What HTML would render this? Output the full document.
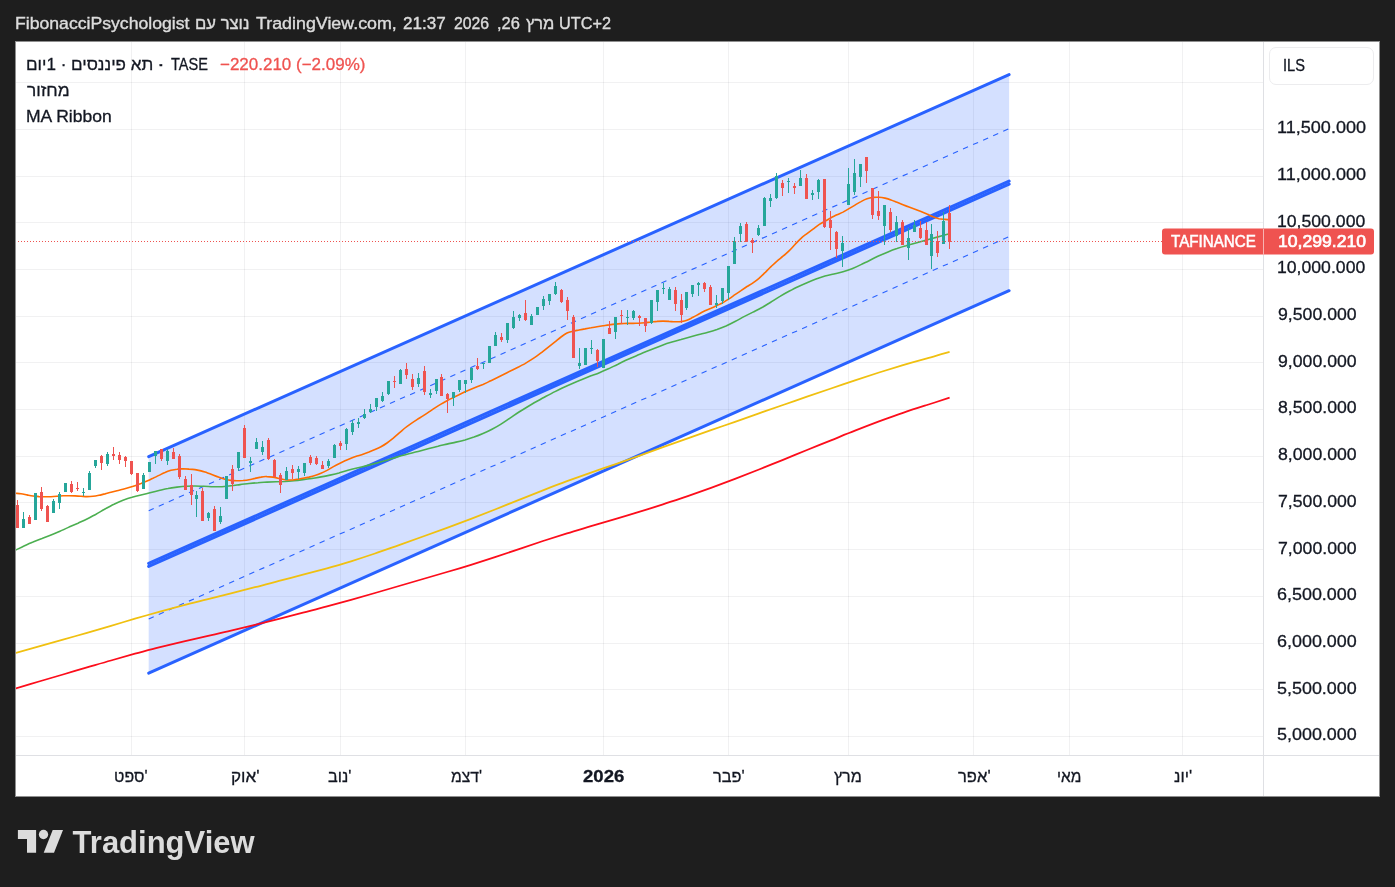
<!DOCTYPE html>
<html lang="he" dir="ltr">
<head>
<meta charset="utf-8">
<title>TAFINANCE chart</title>
<style>
html,body{margin:0;padding:0;}
body{width:1395px;height:887px;background:#1e1e1e;overflow:hidden;position:relative;font-family:"Liberation Sans","DejaVu Sans",sans-serif;color:#131722;}
#wrap{position:absolute;left:15px;top:41px;width:1365px;height:756px;}
#chart{position:absolute;left:0;top:0;width:1365px;height:756px;background:#fff;overflow:hidden;}
#chart svg{position:absolute;left:-15px;top:-41px;}
.t{position:absolute;white-space:pre;font-size:16.8px;line-height:20px;height:20px;transform-origin:0 50%;-webkit-text-stroke:0.3px currentColor;}
.sepv{position:absolute;left:1248px;top:0;width:1px;height:756px;background:#dfe0e4;}
.seph{position:absolute;left:0;top:714px;width:1365px;height:1px;background:#dfe0e4;}
.bl{position:absolute;left:0;top:0;width:1px;height:756px;background:#8f8f8f;}
.bt{position:absolute;left:0;top:0;width:1365px;height:1px;background:#8f8f8f;}
.br{position:absolute;left:1364px;top:0;width:1px;height:756px;background:#8f8f8f;}
.bb{position:absolute;left:0;top:755px;width:1365px;height:1px;background:#8f8f8f;}
#ils{position:absolute;left:1254px;top:6px;width:105px;height:38px;border:1px solid #ececee;border-radius:7px;box-sizing:border-box;}
#tag{position:absolute;left:1147px;top:187px;width:212px;height:26px;background:#ef5350;border-radius:3px;transform:translateY(0.5px);}
#tagsep{position:absolute;left:1248px;top:188px;width:1px;height:26px;background:#f7b4b2;}
#logo{position:absolute;left:0;top:797px;}
</style>
</head>
<body>
<div id="wrap">
<div id="chart">
<svg width="1395" height="887" viewBox="0 0 1395 887">
<g shape-rendering="crispEdges">
<line x1="16" x2="1263" y1="82.5" y2="82.5" stroke="rgba(42,46,57,0.065)"/>
<line x1="16" x2="1263" y1="129.5" y2="129.5" stroke="rgba(42,46,57,0.065)"/>
<line x1="16" x2="1263" y1="176.5" y2="176.5" stroke="rgba(42,46,57,0.065)"/>
<line x1="16" x2="1263" y1="222.5" y2="222.5" stroke="rgba(42,46,57,0.065)"/>
<line x1="16" x2="1263" y1="269.5" y2="269.5" stroke="rgba(42,46,57,0.065)"/>
<line x1="16" x2="1263" y1="316.5" y2="316.5" stroke="rgba(42,46,57,0.065)"/>
<line x1="16" x2="1263" y1="362.5" y2="362.5" stroke="rgba(42,46,57,0.065)"/>
<line x1="16" x2="1263" y1="409.5" y2="409.5" stroke="rgba(42,46,57,0.065)"/>
<line x1="16" x2="1263" y1="456.5" y2="456.5" stroke="rgba(42,46,57,0.065)"/>
<line x1="16" x2="1263" y1="502.5" y2="502.5" stroke="rgba(42,46,57,0.065)"/>
<line x1="16" x2="1263" y1="549.5" y2="549.5" stroke="rgba(42,46,57,0.065)"/>
<line x1="16" x2="1263" y1="596.5" y2="596.5" stroke="rgba(42,46,57,0.065)"/>
<line x1="16" x2="1263" y1="643.5" y2="643.5" stroke="rgba(42,46,57,0.065)"/>
<line x1="16" x2="1263" y1="689.5" y2="689.5" stroke="rgba(42,46,57,0.065)"/>
<line x1="16" x2="1263" y1="736.5" y2="736.5" stroke="rgba(42,46,57,0.065)"/>
<line x1="131.5" x2="131.5" y1="42" y2="755" stroke="rgba(42,46,57,0.065)"/>
<line x1="244.5" x2="244.5" y1="42" y2="755" stroke="rgba(42,46,57,0.065)"/>
<line x1="340.5" x2="340.5" y1="42" y2="755" stroke="rgba(42,46,57,0.065)"/>
<line x1="465.5" x2="465.5" y1="42" y2="755" stroke="rgba(42,46,57,0.065)"/>
<line x1="603.5" x2="603.5" y1="42" y2="755" stroke="rgba(42,46,57,0.065)"/>
<line x1="728.5" x2="728.5" y1="42" y2="755" stroke="rgba(42,46,57,0.065)"/>
<line x1="848.5" x2="848.5" y1="42" y2="755" stroke="rgba(42,46,57,0.065)"/>
<line x1="973.5" x2="973.5" y1="42" y2="755" stroke="rgba(42,46,57,0.065)"/>
<line x1="1069.5" x2="1069.5" y1="42" y2="755" stroke="rgba(42,46,57,0.065)"/>
<line x1="1182.5" x2="1182.5" y1="42" y2="755" stroke="rgba(42,46,57,0.065)"/>
</g>
<polygon points="148.7,456.57 1009.1,74.6 1009.1,290.7 148.7,673.13" fill="#2962ff" fill-opacity="0.2"/>
<line x1="148.7" y1="456.57" x2="1009.1" y2="74.60" stroke="#2962ff" stroke-width="3" stroke-linecap="round"/>
<line x1="148.7" y1="673.13" x2="1009.1" y2="290.70" stroke="#2962ff" stroke-width="3" stroke-linecap="round"/>
<line x1="148.7" y1="510.71" x2="1009.1" y2="128.62" stroke="#2962ff" stroke-width="1.1" stroke-linecap="butt" stroke-dasharray="5.5 5.5"/>
<line x1="148.7" y1="618.99" x2="1009.1" y2="236.67" stroke="#2962ff" stroke-width="1.1" stroke-linecap="butt" stroke-dasharray="5.5 5.5"/>
<line x1="148.7" y1="563.35" x2="1009.1" y2="181.15" stroke="#2962ff" stroke-width="3.1" stroke-linecap="round"/>
<line x1="148.7" y1="566.35" x2="1009.1" y2="184.15" stroke="#2962ff" stroke-width="3.1" stroke-linecap="round"/>
<path d="M15.0,688.7C19.0,687.5 31.0,683.9 39.0,681.5C47.0,679.2 55.0,676.8 63.0,674.5C71.0,672.1 79.0,669.8 87.0,667.4C95.0,665.1 103.0,662.7 111.0,660.5C119.0,658.2 127.0,655.9 135.0,653.7C143.0,651.6 151.0,649.4 159.0,647.4C167.0,645.4 175.0,643.5 183.0,641.6C191.0,639.7 199.0,638.0 207.0,636.1C215.0,634.3 223.0,632.6 231.0,630.7C239.0,628.8 247.0,626.9 255.0,624.9C263.0,622.9 271.0,620.9 279.0,618.8C287.0,616.8 295.0,614.7 303.0,612.6C311.0,610.5 319.0,608.5 327.0,606.3C335.0,604.2 343.0,602.0 351.0,599.8C359.0,597.5 367.0,595.2 375.0,593.0C383.0,590.7 391.0,588.3 399.0,586.0C407.0,583.7 415.0,581.4 423.0,579.0C431.0,576.7 439.0,574.4 447.0,572.0C455.0,569.7 463.0,567.3 471.0,564.8C479.0,562.3 487.0,559.7 495.0,557.1C503.0,554.5 511.0,551.8 519.0,549.1C527.0,546.4 535.0,543.7 543.0,541.0C551.0,538.4 559.0,535.9 567.0,533.4C575.0,530.9 583.0,528.6 591.0,526.2C599.0,523.8 607.0,521.5 615.0,519.1C623.0,516.8 631.0,514.4 639.0,511.9C647.0,509.5 655.0,507.0 663.0,504.4C671.0,501.7 679.0,499.1 687.0,496.3C695.0,493.5 703.0,490.7 711.0,487.8C719.0,484.9 727.0,481.9 735.0,478.9C743.0,475.8 751.0,472.7 759.0,469.5C767.0,466.3 775.0,463.0 783.0,459.8C791.0,456.5 799.0,453.3 807.0,450.0C815.0,446.8 823.0,443.5 831.0,440.3C839.0,437.1 847.0,433.8 855.0,430.7C863.0,427.5 871.0,424.4 879.0,421.4C887.0,418.5 895.0,415.6 903.0,412.9C911.0,410.1 919.2,407.5 927.0,405.0C934.8,402.5 945.8,399.0 949.6,397.7" fill="none" stroke="#fc0d1b" stroke-width="1.8" stroke-linejoin="round"/>
<path d="M15.0,653.1C19.0,652.0 31.0,648.7 39.0,646.4C47.0,644.2 55.0,642.0 63.0,639.7C71.0,637.4 79.0,635.1 87.0,632.8C95.0,630.5 103.0,628.1 111.0,625.8C119.0,623.4 127.0,621.1 135.0,618.7C143.0,616.4 151.0,614.1 159.0,611.8C167.0,609.6 175.0,607.4 183.0,605.3C191.0,603.2 199.0,601.3 207.0,599.3C215.0,597.3 223.0,595.4 231.0,593.4C239.0,591.4 247.0,589.3 255.0,587.2C263.0,585.2 271.0,583.0 279.0,580.9C287.0,578.8 295.0,576.8 303.0,574.7C311.0,572.6 319.0,570.5 327.0,568.3C335.0,566.0 343.0,563.8 351.0,561.3C359.0,558.8 367.0,556.2 375.0,553.5C383.0,550.8 391.0,547.9 399.0,545.1C407.0,542.3 415.0,539.4 423.0,536.5C431.0,533.7 439.0,530.8 447.0,527.9C455.0,524.9 463.0,521.9 471.0,518.9C479.0,515.8 487.0,512.7 495.0,509.5C503.0,506.3 511.0,503.0 519.0,499.8C527.0,496.6 535.0,493.4 543.0,490.3C551.0,487.2 559.0,484.1 567.0,481.2C575.0,478.3 583.0,475.5 591.0,472.6C599.0,469.8 607.0,467.1 615.0,464.3C623.0,461.5 631.0,458.7 639.0,455.9C647.0,453.0 655.0,450.1 663.0,447.2C671.0,444.4 679.0,441.5 687.0,438.6C695.0,435.8 703.0,433.0 711.0,430.2C719.0,427.4 727.0,424.6 735.0,421.8C743.0,418.9 751.0,416.1 759.0,413.3C767.0,410.5 775.0,407.7 783.0,405.0C791.0,402.2 799.0,399.5 807.0,396.7C815.0,394.0 823.0,391.3 831.0,388.5C839.0,385.8 847.0,383.1 855.0,380.4C863.0,377.7 871.0,375.1 879.0,372.5C887.0,370.0 895.0,367.5 903.0,365.1C911.0,362.8 919.2,360.5 927.0,358.3C934.8,356.1 945.8,352.9 949.6,351.9" fill="none" stroke="#f0c010" stroke-width="1.8" stroke-linejoin="round"/>
<path d="M15.0,550.4C16.5,549.7 21.0,547.4 24.0,546.0C27.0,544.6 30.0,543.2 33.0,542.0C36.0,540.7 39.0,539.6 42.0,538.5C45.0,537.3 48.0,536.3 51.0,535.1C54.0,533.9 57.0,532.5 60.0,531.2C63.0,529.9 66.0,528.5 69.0,527.1C72.0,525.8 75.0,524.5 78.0,523.2C81.0,521.8 84.0,520.5 87.0,519.0C90.0,517.5 93.0,515.8 96.0,514.2C99.0,512.5 102.0,510.7 105.0,509.0C108.0,507.3 111.0,505.6 114.0,504.2C117.0,502.7 120.0,501.3 123.0,500.2C126.0,499.1 129.0,498.1 132.0,497.3C135.0,496.4 138.0,495.7 141.0,495.0C144.0,494.3 147.0,493.6 150.0,492.8C153.0,492.0 156.0,491.2 159.0,490.5C162.0,489.8 165.0,489.0 168.0,488.5C171.0,487.9 174.0,487.5 177.0,487.1C180.0,486.8 183.0,486.5 186.0,486.3C189.0,486.1 192.0,486.0 195.0,486.0C198.0,486.0 201.0,486.2 204.0,486.3C207.0,486.4 210.0,486.7 213.0,486.8C216.0,486.8 219.0,486.8 222.0,486.7C225.0,486.5 228.0,486.2 231.0,485.8C234.0,485.5 237.0,485.0 240.0,484.6C243.0,484.2 246.0,483.9 249.0,483.5C252.0,483.2 255.0,482.9 258.0,482.7C261.0,482.4 264.0,482.3 267.0,482.1C270.0,482.0 273.0,481.9 276.0,481.8C279.0,481.7 282.0,481.6 285.0,481.5C288.0,481.3 291.0,481.0 294.0,480.7C297.0,480.4 300.0,480.0 303.0,479.6C306.0,479.2 309.0,478.8 312.0,478.4C315.0,477.9 318.0,477.5 321.0,476.9C324.0,476.4 327.0,475.8 330.0,475.1C333.0,474.4 336.0,473.7 339.0,472.9C342.0,472.0 345.0,471.0 348.0,470.2C351.0,469.4 354.0,468.7 357.0,468.0C360.0,467.3 363.0,466.6 366.0,465.9C369.0,465.2 372.0,464.4 375.0,463.6C378.0,462.8 381.0,461.9 384.0,461.1C387.0,460.2 390.0,459.2 393.0,458.3C396.0,457.4 399.0,456.4 402.0,455.6C405.0,454.7 408.0,454.0 411.0,453.2C414.0,452.4 417.0,451.7 420.0,450.9C423.0,450.1 426.0,449.3 429.0,448.5C432.0,447.7 435.0,446.9 438.0,446.2C441.0,445.4 444.0,444.8 447.0,444.1C450.0,443.4 453.0,442.8 456.0,442.1C459.0,441.4 462.0,440.7 465.0,439.9C468.0,439.0 471.0,438.1 474.0,437.1C477.0,436.0 480.0,434.8 483.0,433.5C486.0,432.2 489.0,430.8 492.0,429.2C495.0,427.7 498.0,426.0 501.0,424.1C504.0,422.3 507.0,420.1 510.0,418.1C513.0,416.1 516.0,413.9 519.0,412.0C522.0,410.1 525.0,408.3 528.0,406.5C531.0,404.7 534.0,403.0 537.0,401.3C540.0,399.6 543.0,397.9 546.0,396.3C549.0,394.7 552.0,393.1 555.0,391.6C558.0,390.1 561.0,388.6 564.0,387.2C567.0,385.8 570.0,384.5 573.0,383.2C576.0,381.9 579.0,380.6 582.0,379.4C585.0,378.2 588.0,377.0 591.0,375.8C594.0,374.7 597.0,373.7 600.0,372.4C603.0,371.2 606.0,369.9 609.0,368.6C612.0,367.2 615.0,365.6 618.0,364.2C621.0,362.7 624.0,361.2 627.0,359.8C630.0,358.5 633.0,357.2 636.0,355.9C639.0,354.6 642.0,353.4 645.0,352.1C648.0,350.9 651.0,349.6 654.0,348.4C657.0,347.2 660.0,346.0 663.0,344.9C666.0,343.9 669.0,343.0 672.0,342.1C675.0,341.2 678.0,340.4 681.0,339.6C684.0,338.7 687.0,337.9 690.0,337.1C693.0,336.3 696.0,335.5 699.0,334.6C702.0,333.8 705.0,333.1 708.0,332.2C711.0,331.4 714.0,330.5 717.0,329.5C720.0,328.4 723.0,327.3 726.0,326.0C729.0,324.6 732.0,323.1 735.0,321.5C738.0,320.0 741.0,318.2 744.0,316.6C747.0,315.1 750.0,313.6 753.0,312.1C756.0,310.6 759.0,309.2 762.0,307.5C765.0,305.8 768.0,303.8 771.0,302.0C774.0,300.1 777.0,298.1 780.0,296.4C783.0,294.6 786.0,292.9 789.0,291.3C792.0,289.7 795.0,288.1 798.0,286.7C801.0,285.3 804.0,284.0 807.0,282.7C810.0,281.4 813.0,280.1 816.0,279.0C819.0,277.9 822.0,276.9 825.0,276.0C828.0,275.2 831.0,274.7 834.0,274.0C837.0,273.3 840.0,272.7 843.0,271.8C846.0,270.9 849.0,269.9 852.0,268.7C855.0,267.5 858.0,266.1 861.0,264.6C864.0,263.2 867.0,261.7 870.0,260.2C873.0,258.7 876.0,257.2 879.0,255.8C882.0,254.5 885.0,253.2 888.0,251.9C891.0,250.7 894.0,249.6 897.0,248.6C900.0,247.5 903.0,246.6 906.0,245.8C909.0,244.9 912.0,244.0 915.0,243.2C918.0,242.4 921.0,241.6 924.0,240.8C927.0,240.0 930.0,239.2 933.0,238.3C936.0,237.5 939.2,236.6 942.0,235.8C944.8,235.1 948.2,234.2 949.5,233.8" fill="none" stroke="#4caf50" stroke-width="1.6" stroke-linejoin="round"/>
<path d="M15.0,493.2C16.0,493.3 19.0,493.5 21.0,493.7C23.0,494.0 25.0,494.5 27.0,494.9C29.0,495.3 31.0,495.8 33.0,496.0C35.0,496.3 37.0,496.4 39.0,496.6C41.0,496.7 43.0,496.8 45.0,496.8C47.0,496.8 49.0,496.8 51.0,496.7C53.0,496.6 55.0,496.4 57.0,496.2C59.0,496.0 61.0,495.8 63.0,495.7C65.0,495.7 67.0,495.7 69.0,495.7C71.0,495.7 73.0,495.8 75.0,495.9C77.0,496.0 79.0,496.2 81.0,496.3C83.0,496.4 85.0,496.6 87.0,496.6C89.0,496.6 91.0,496.5 93.0,496.3C95.0,496.1 97.0,495.7 99.0,495.3C101.0,494.9 103.0,494.3 105.0,493.9C107.0,493.4 109.0,492.8 111.0,492.3C113.0,491.8 115.0,491.3 117.0,490.8C119.0,490.3 121.0,489.7 123.0,489.2C125.0,488.7 127.0,488.2 129.0,487.6C131.0,487.0 133.0,486.4 135.0,485.7C137.0,485.0 139.0,484.3 141.0,483.6C143.0,482.8 145.0,482.0 147.0,481.1C149.0,480.2 151.0,479.2 153.0,478.3C155.0,477.3 157.0,476.4 159.0,475.4C161.0,474.4 163.0,473.3 165.0,472.5C167.0,471.6 169.0,470.9 171.0,470.3C173.0,469.8 175.0,469.4 177.0,469.2C179.0,468.9 181.0,468.9 183.0,468.8C185.0,468.8 187.0,468.9 189.0,469.1C191.0,469.2 193.0,469.3 195.0,469.6C197.0,469.9 199.0,470.4 201.0,470.9C203.0,471.4 205.0,472.1 207.0,472.7C209.0,473.4 211.0,474.3 213.0,475.0C215.0,475.8 217.0,476.6 219.0,477.3C221.0,478.0 223.0,478.7 225.0,479.3C227.0,479.8 229.0,480.2 231.0,480.4C233.0,480.7 235.0,480.7 237.0,480.7C239.0,480.7 241.0,480.6 243.0,480.5C245.0,480.3 247.0,480.1 249.0,479.7C251.0,479.4 253.0,478.8 255.0,478.4C257.0,477.9 259.0,477.4 261.0,477.1C263.0,476.7 265.0,476.5 267.0,476.6C269.0,476.6 271.0,476.8 273.0,477.1C275.0,477.5 277.0,478.0 279.0,478.5C281.0,478.9 283.0,479.5 285.0,479.8C287.0,480.1 289.0,480.1 291.0,480.0C293.0,479.9 295.0,479.5 297.0,479.2C299.0,478.9 301.0,478.7 303.0,478.3C305.0,477.9 307.0,477.5 309.0,477.1C311.0,476.6 313.0,476.1 315.0,475.5C317.0,474.9 319.0,474.1 321.0,473.2C323.0,472.4 325.0,471.4 327.0,470.4C329.0,469.3 331.0,468.1 333.0,466.9C335.0,465.8 337.0,464.7 339.0,463.7C341.0,462.7 343.0,461.7 345.0,460.8C347.0,459.9 349.0,459.1 351.0,458.3C353.0,457.5 355.0,456.8 357.0,456.1C359.0,455.4 361.0,454.9 363.0,454.2C365.0,453.5 367.0,452.8 369.0,452.1C371.0,451.3 373.0,450.5 375.0,449.6C377.0,448.7 379.0,447.8 381.0,446.7C383.0,445.6 385.0,444.4 387.0,443.0C389.0,441.6 391.0,440.0 393.0,438.4C395.0,436.7 397.0,435.0 399.0,433.2C401.0,431.5 403.0,429.7 405.0,428.0C407.0,426.4 409.0,425.0 411.0,423.6C413.0,422.2 415.0,420.9 417.0,419.6C419.0,418.3 421.0,417.2 423.0,415.9C425.0,414.6 427.0,413.3 429.0,411.9C431.0,410.6 433.0,409.2 435.0,407.9C437.0,406.6 439.0,405.3 441.0,404.1C443.0,402.9 445.0,401.8 447.0,400.7C449.0,399.6 451.0,398.7 453.0,397.6C455.0,396.6 457.0,395.6 459.0,394.7C461.0,393.7 463.0,392.7 465.0,391.7C467.0,390.8 469.0,390.0 471.0,389.2C473.0,388.4 475.0,387.6 477.0,386.8C479.0,386.0 481.0,385.2 483.0,384.4C485.0,383.5 487.0,382.6 489.0,381.6C491.0,380.7 493.0,379.7 495.0,378.7C497.0,377.7 499.0,376.7 501.0,375.7C503.0,374.7 505.0,373.7 507.0,372.7C509.0,371.7 511.0,370.7 513.0,369.7C515.0,368.7 517.0,367.7 519.0,366.7C521.0,365.6 523.0,364.7 525.0,363.6C527.0,362.4 529.0,361.2 531.0,359.9C533.0,358.6 535.0,357.3 537.0,355.9C539.0,354.5 541.0,352.9 543.0,351.4C545.0,349.9 547.0,348.3 549.0,346.7C551.0,345.1 553.0,343.5 555.0,341.9C557.0,340.3 559.0,338.5 561.0,337.0C563.0,335.5 565.0,334.0 567.0,333.0C569.0,332.1 571.0,331.7 573.0,331.2C575.0,330.7 577.0,330.4 579.0,330.0C581.0,329.6 583.0,329.2 585.0,328.9C587.0,328.5 589.0,328.1 591.0,327.8C593.0,327.4 595.0,327.0 597.0,326.7C599.0,326.4 601.0,326.1 603.0,325.8C605.0,325.5 607.0,325.1 609.0,324.9C611.0,324.6 613.0,324.3 615.0,324.1C617.0,323.9 619.0,323.8 621.0,323.6C623.0,323.5 625.0,323.5 627.0,323.4C629.0,323.4 631.0,323.4 633.0,323.4C635.0,323.3 637.0,323.3 639.0,323.2C641.0,323.1 643.0,322.9 645.0,322.7C647.0,322.5 649.0,322.2 651.0,322.0C653.0,321.8 655.0,321.5 657.0,321.4C659.0,321.2 661.0,321.1 663.0,321.1C665.0,321.1 667.0,321.2 669.0,321.4C671.0,321.5 673.0,321.8 675.0,321.8C677.0,321.8 679.0,321.9 681.0,321.6C683.0,321.3 685.0,321.0 687.0,320.2C689.0,319.5 691.0,318.3 693.0,317.3C695.0,316.3 697.0,315.1 699.0,314.0C701.0,312.9 703.0,311.8 705.0,310.8C707.0,309.8 709.0,309.0 711.0,308.2C713.0,307.3 715.0,306.5 717.0,305.6C719.0,304.6 721.0,303.7 723.0,302.6C725.0,301.4 727.0,300.2 729.0,298.9C731.0,297.6 733.0,296.1 735.0,294.7C737.0,293.3 739.0,291.9 741.0,290.6C743.0,289.2 745.0,287.8 747.0,286.5C749.0,285.2 751.0,284.2 753.0,282.8C755.0,281.4 757.0,280.0 759.0,278.3C761.0,276.6 763.0,274.6 765.0,272.7C767.0,270.7 769.0,268.6 771.0,266.7C773.0,264.8 775.0,262.8 777.0,261.1C779.0,259.3 781.0,257.9 783.0,256.2C785.0,254.6 787.0,252.9 789.0,250.9C791.0,249.0 793.0,246.6 795.0,244.5C797.0,242.4 799.0,240.1 801.0,238.3C803.0,236.4 805.0,235.1 807.0,233.6C809.0,232.1 811.0,230.6 813.0,229.1C815.0,227.6 817.0,225.9 819.0,224.6C821.0,223.3 823.0,222.3 825.0,221.2C827.0,220.0 829.0,218.8 831.0,217.7C833.0,216.7 835.0,215.8 837.0,214.8C839.0,213.9 841.0,213.1 843.0,212.1C845.0,211.0 847.0,209.8 849.0,208.6C851.0,207.5 853.0,206.3 855.0,205.1C857.0,203.9 859.0,202.6 861.0,201.6C863.0,200.5 865.0,199.5 867.0,198.8C869.0,198.1 871.0,197.7 873.0,197.4C875.0,197.2 877.0,197.2 879.0,197.3C881.0,197.4 883.0,197.7 885.0,198.1C887.0,198.6 889.0,199.2 891.0,199.9C893.0,200.6 895.0,201.5 897.0,202.3C899.0,203.1 901.0,204.0 903.0,204.8C905.0,205.6 907.0,206.4 909.0,207.1C911.0,207.8 913.0,208.5 915.0,209.2C917.0,210.0 919.0,210.8 921.0,211.6C923.0,212.4 925.0,213.2 927.0,214.1C929.0,214.9 931.0,216.0 933.0,216.8C935.0,217.5 937.0,218.2 939.0,218.7C941.0,219.1 943.2,219.2 945.0,219.4C946.8,219.6 948.8,219.7 949.5,219.8" fill="none" stroke="#ff6d00" stroke-width="1.6" stroke-linejoin="round"/>
<g shape-rendering="crispEdges">
<rect x="17" y="500" width="1" height="28" fill="#ef5350"/>
<rect x="16" y="505" width="3" height="23" fill="#ef5350"/>
<rect x="23" y="512" width="1" height="16" fill="#26a69a"/>
<rect x="22" y="519" width="3" height="9" fill="#26a69a"/>
<rect x="29" y="515" width="1" height="9" fill="#ef5350"/>
<rect x="28" y="517" width="3" height="7" fill="#ef5350"/>
<rect x="35" y="493" width="1" height="27" fill="#26a69a"/>
<rect x="34" y="493" width="3" height="27" fill="#26a69a"/>
<rect x="41" y="487" width="1" height="24" fill="#ef5350"/>
<rect x="40" y="492" width="3" height="17" fill="#ef5350"/>
<rect x="47" y="505" width="1" height="17" fill="#ef5350"/>
<rect x="46" y="506" width="3" height="16" fill="#ef5350"/>
<rect x="53" y="499" width="1" height="14" fill="#26a69a"/>
<rect x="52" y="501" width="3" height="12" fill="#26a69a"/>
<rect x="59" y="492" width="1" height="17" fill="#26a69a"/>
<rect x="58" y="494" width="3" height="9" fill="#26a69a"/>
<rect x="65" y="483" width="1" height="9" fill="#26a69a"/>
<rect x="64" y="483" width="3" height="9" fill="#26a69a"/>
<rect x="71" y="481" width="1" height="12" fill="#ef5350"/>
<rect x="70" y="484" width="3" height="8" fill="#ef5350"/>
<rect x="77" y="482" width="1" height="9" fill="#ef5350"/>
<rect x="76" y="488" width="3" height="1" fill="#ef5350"/>
<rect x="83" y="488" width="1" height="8" fill="#26a69a"/>
<rect x="82" y="492" width="3" height="1" fill="#26a69a"/>
<rect x="89" y="471" width="1" height="19" fill="#26a69a"/>
<rect x="88" y="473" width="3" height="17" fill="#26a69a"/>
<rect x="95" y="460" width="1" height="8" fill="#26a69a"/>
<rect x="94" y="460" width="3" height="6" fill="#26a69a"/>
<rect x="101" y="455" width="1" height="15" fill="#ef5350"/>
<rect x="100" y="456" width="3" height="7" fill="#ef5350"/>
<rect x="107" y="452" width="1" height="14" fill="#26a69a"/>
<rect x="106" y="454" width="3" height="10" fill="#26a69a"/>
<rect x="113" y="447" width="1" height="13" fill="#ef5350"/>
<rect x="112" y="454" width="3" height="2" fill="#ef5350"/>
<rect x="119" y="452" width="1" height="12" fill="#ef5350"/>
<rect x="118" y="455" width="3" height="5" fill="#ef5350"/>
<rect x="125" y="456" width="1" height="11" fill="#ef5350"/>
<rect x="124" y="457" width="3" height="4" fill="#ef5350"/>
<rect x="131" y="461" width="1" height="14" fill="#ef5350"/>
<rect x="130" y="461" width="3" height="13" fill="#ef5350"/>
<rect x="137" y="473" width="1" height="19" fill="#ef5350"/>
<rect x="136" y="473" width="3" height="18" fill="#ef5350"/>
<rect x="143" y="473" width="1" height="16" fill="#26a69a"/>
<rect x="142" y="475" width="3" height="14" fill="#26a69a"/>
<rect x="149" y="462" width="1" height="10" fill="#26a69a"/>
<rect x="148" y="462" width="3" height="10" fill="#26a69a"/>
<rect x="155" y="451" width="1" height="13" fill="#26a69a"/>
<rect x="154" y="451" width="3" height="5" fill="#26a69a"/>
<rect x="161" y="449" width="1" height="12" fill="#ef5350"/>
<rect x="160" y="449" width="3" height="10" fill="#ef5350"/>
<rect x="167" y="449" width="1" height="16" fill="#26a69a"/>
<rect x="166" y="451" width="3" height="10" fill="#26a69a"/>
<rect x="173" y="448" width="1" height="11" fill="#ef5350"/>
<rect x="172" y="452" width="3" height="7" fill="#ef5350"/>
<rect x="179" y="454" width="1" height="25" fill="#ef5350"/>
<rect x="178" y="456" width="3" height="21" fill="#ef5350"/>
<rect x="185" y="476" width="1" height="14" fill="#ef5350"/>
<rect x="184" y="479" width="3" height="11" fill="#ef5350"/>
<rect x="191" y="474" width="1" height="31" fill="#ef5350"/>
<rect x="190" y="485" width="3" height="10" fill="#ef5350"/>
<rect x="196" y="491" width="1" height="26" fill="#26a69a"/>
<rect x="195" y="495" width="3" height="4" fill="#26a69a"/>
<rect x="202" y="488" width="1" height="33" fill="#ef5350"/>
<rect x="201" y="491" width="3" height="30" fill="#ef5350"/>
<rect x="208" y="512" width="1" height="9" fill="#26a69a"/>
<rect x="207" y="513" width="3" height="5" fill="#26a69a"/>
<rect x="214" y="506" width="1" height="25" fill="#ef5350"/>
<rect x="213" y="509" width="3" height="22" fill="#ef5350"/>
<rect x="220" y="507" width="1" height="17" fill="#26a69a"/>
<rect x="219" y="516" width="3" height="6" fill="#26a69a"/>
<rect x="226" y="476" width="1" height="23" fill="#26a69a"/>
<rect x="225" y="476" width="3" height="23" fill="#26a69a"/>
<rect x="232" y="465" width="1" height="26" fill="#ef5350"/>
<rect x="231" y="469" width="3" height="15" fill="#ef5350"/>
<rect x="238" y="452" width="1" height="19" fill="#26a69a"/>
<rect x="237" y="452" width="3" height="16" fill="#26a69a"/>
<rect x="244" y="425" width="1" height="33" fill="#ef5350"/>
<rect x="243" y="428" width="3" height="30" fill="#ef5350"/>
<rect x="250" y="457" width="1" height="15" fill="#26a69a"/>
<rect x="249" y="461" width="3" height="2" fill="#26a69a"/>
<rect x="256" y="438" width="1" height="11" fill="#26a69a"/>
<rect x="255" y="442" width="3" height="7" fill="#26a69a"/>
<rect x="262" y="441" width="1" height="14" fill="#26a69a"/>
<rect x="261" y="447" width="3" height="5" fill="#26a69a"/>
<rect x="268" y="438" width="1" height="22" fill="#ef5350"/>
<rect x="267" y="440" width="3" height="19" fill="#ef5350"/>
<rect x="274" y="459" width="1" height="18" fill="#ef5350"/>
<rect x="273" y="460" width="3" height="17" fill="#ef5350"/>
<rect x="280" y="473" width="1" height="20" fill="#ef5350"/>
<rect x="279" y="475" width="3" height="10" fill="#ef5350"/>
<rect x="286" y="467" width="1" height="13" fill="#26a69a"/>
<rect x="285" y="471" width="3" height="9" fill="#26a69a"/>
<rect x="292" y="465" width="1" height="14" fill="#ef5350"/>
<rect x="291" y="469" width="3" height="4" fill="#ef5350"/>
<rect x="298" y="466" width="1" height="13" fill="#26a69a"/>
<rect x="297" y="469" width="3" height="3" fill="#26a69a"/>
<rect x="304" y="463" width="1" height="13" fill="#26a69a"/>
<rect x="303" y="463" width="3" height="10" fill="#26a69a"/>
<rect x="310" y="455" width="1" height="10" fill="#ef5350"/>
<rect x="309" y="457" width="3" height="6" fill="#ef5350"/>
<rect x="316" y="456" width="1" height="9" fill="#ef5350"/>
<rect x="315" y="458" width="3" height="6" fill="#ef5350"/>
<rect x="322" y="461" width="1" height="8" fill="#ef5350"/>
<rect x="321" y="465" width="3" height="4" fill="#ef5350"/>
<rect x="328" y="459" width="1" height="9" fill="#26a69a"/>
<rect x="327" y="461" width="3" height="5" fill="#26a69a"/>
<rect x="334" y="444" width="1" height="14" fill="#26a69a"/>
<rect x="333" y="445" width="3" height="13" fill="#26a69a"/>
<rect x="340" y="441" width="1" height="9" fill="#ef5350"/>
<rect x="339" y="443" width="3" height="3" fill="#ef5350"/>
<rect x="346" y="428" width="1" height="22" fill="#26a69a"/>
<rect x="345" y="429" width="3" height="15" fill="#26a69a"/>
<rect x="352" y="420" width="1" height="15" fill="#26a69a"/>
<rect x="351" y="423" width="3" height="9" fill="#26a69a"/>
<rect x="358" y="418" width="1" height="10" fill="#26a69a"/>
<rect x="357" y="422" width="3" height="2" fill="#26a69a"/>
<rect x="364" y="409" width="1" height="10" fill="#26a69a"/>
<rect x="363" y="414" width="3" height="4" fill="#26a69a"/>
<rect x="370" y="404" width="1" height="9" fill="#26a69a"/>
<rect x="369" y="409" width="3" height="3" fill="#26a69a"/>
<rect x="376" y="398" width="1" height="13" fill="#26a69a"/>
<rect x="375" y="398" width="3" height="9" fill="#26a69a"/>
<rect x="382" y="392" width="1" height="10" fill="#26a69a"/>
<rect x="381" y="396" width="3" height="5" fill="#26a69a"/>
<rect x="388" y="381" width="1" height="14" fill="#26a69a"/>
<rect x="387" y="381" width="3" height="13" fill="#26a69a"/>
<rect x="394" y="376" width="1" height="12" fill="#ef5350"/>
<rect x="393" y="381" width="3" height="1" fill="#ef5350"/>
<rect x="400" y="369" width="1" height="15" fill="#26a69a"/>
<rect x="399" y="370" width="3" height="14" fill="#26a69a"/>
<rect x="406" y="363" width="1" height="16" fill="#ef5350"/>
<rect x="405" y="369" width="3" height="6" fill="#ef5350"/>
<rect x="412" y="374" width="1" height="16" fill="#ef5350"/>
<rect x="411" y="379" width="3" height="8" fill="#ef5350"/>
<rect x="418" y="373" width="1" height="14" fill="#26a69a"/>
<rect x="417" y="378" width="3" height="6" fill="#26a69a"/>
<rect x="424" y="366" width="1" height="29" fill="#ef5350"/>
<rect x="423" y="371" width="3" height="21" fill="#ef5350"/>
<rect x="430" y="389" width="1" height="9" fill="#26a69a"/>
<rect x="429" y="393" width="3" height="2" fill="#26a69a"/>
<rect x="436" y="379" width="1" height="15" fill="#26a69a"/>
<rect x="435" y="379" width="3" height="12" fill="#26a69a"/>
<rect x="441" y="374" width="1" height="22" fill="#ef5350"/>
<rect x="440" y="377" width="3" height="19" fill="#ef5350"/>
<rect x="447" y="393" width="1" height="20" fill="#ef5350"/>
<rect x="446" y="394" width="3" height="5" fill="#ef5350"/>
<rect x="453" y="392" width="1" height="14" fill="#26a69a"/>
<rect x="452" y="392" width="3" height="6" fill="#26a69a"/>
<rect x="459" y="380" width="1" height="12" fill="#26a69a"/>
<rect x="458" y="380" width="3" height="10" fill="#26a69a"/>
<rect x="465" y="380" width="1" height="13" fill="#26a69a"/>
<rect x="464" y="380" width="3" height="4" fill="#26a69a"/>
<rect x="471" y="368" width="1" height="15" fill="#26a69a"/>
<rect x="470" y="368" width="3" height="12" fill="#26a69a"/>
<rect x="477" y="358" width="1" height="12" fill="#ef5350"/>
<rect x="476" y="366" width="3" height="3" fill="#ef5350"/>
<rect x="483" y="363" width="1" height="6" fill="#26a69a"/>
<rect x="482" y="363" width="3" height="1" fill="#26a69a"/>
<rect x="489" y="346" width="1" height="17" fill="#26a69a"/>
<rect x="488" y="346" width="3" height="17" fill="#26a69a"/>
<rect x="495" y="332" width="1" height="14" fill="#26a69a"/>
<rect x="494" y="335" width="3" height="11" fill="#26a69a"/>
<rect x="501" y="333" width="1" height="9" fill="#ef5350"/>
<rect x="500" y="337" width="3" height="3" fill="#ef5350"/>
<rect x="507" y="323" width="1" height="20" fill="#26a69a"/>
<rect x="506" y="323" width="3" height="17" fill="#26a69a"/>
<rect x="513" y="311" width="1" height="18" fill="#26a69a"/>
<rect x="512" y="317" width="3" height="11" fill="#26a69a"/>
<rect x="519" y="314" width="1" height="7" fill="#26a69a"/>
<rect x="518" y="315" width="3" height="3" fill="#26a69a"/>
<rect x="525" y="300" width="1" height="21" fill="#ef5350"/>
<rect x="524" y="313" width="3" height="7" fill="#ef5350"/>
<rect x="531" y="314" width="1" height="11" fill="#26a69a"/>
<rect x="530" y="316" width="3" height="9" fill="#26a69a"/>
<rect x="537" y="307" width="1" height="8" fill="#26a69a"/>
<rect x="536" y="307" width="3" height="8" fill="#26a69a"/>
<rect x="543" y="296" width="1" height="14" fill="#26a69a"/>
<rect x="542" y="299" width="3" height="7" fill="#26a69a"/>
<rect x="549" y="294" width="1" height="11" fill="#26a69a"/>
<rect x="548" y="294" width="3" height="7" fill="#26a69a"/>
<rect x="555" y="282" width="1" height="13" fill="#26a69a"/>
<rect x="554" y="286" width="3" height="8" fill="#26a69a"/>
<rect x="561" y="289" width="1" height="14" fill="#ef5350"/>
<rect x="560" y="290" width="3" height="12" fill="#ef5350"/>
<rect x="567" y="297" width="1" height="23" fill="#ef5350"/>
<rect x="566" y="300" width="3" height="11" fill="#ef5350"/>
<rect x="573" y="315" width="1" height="43" fill="#ef5350"/>
<rect x="572" y="317" width="3" height="41" fill="#ef5350"/>
<rect x="579" y="348" width="1" height="21" fill="#26a69a"/>
<rect x="578" y="363" width="3" height="3" fill="#26a69a"/>
<rect x="585" y="348" width="1" height="17" fill="#26a69a"/>
<rect x="584" y="348" width="3" height="17" fill="#26a69a"/>
<rect x="591" y="340" width="1" height="14" fill="#26a69a"/>
<rect x="590" y="348" width="3" height="1" fill="#26a69a"/>
<rect x="597" y="349" width="1" height="18" fill="#ef5350"/>
<rect x="596" y="350" width="3" height="11" fill="#ef5350"/>
<rect x="603" y="339" width="1" height="29" fill="#26a69a"/>
<rect x="602" y="339" width="3" height="29" fill="#26a69a"/>
<rect x="609" y="321" width="1" height="13" fill="#ef5350"/>
<rect x="608" y="328" width="3" height="6" fill="#ef5350"/>
<rect x="615" y="317" width="1" height="22" fill="#26a69a"/>
<rect x="614" y="317" width="3" height="15" fill="#26a69a"/>
<rect x="621" y="310" width="1" height="14" fill="#ef5350"/>
<rect x="620" y="315" width="3" height="1" fill="#ef5350"/>
<rect x="627" y="310" width="1" height="15" fill="#26a69a"/>
<rect x="626" y="317" width="3" height="1" fill="#26a69a"/>
<rect x="633" y="310" width="1" height="10" fill="#26a69a"/>
<rect x="632" y="311" width="3" height="7" fill="#26a69a"/>
<rect x="639" y="315" width="1" height="11" fill="#ef5350"/>
<rect x="638" y="316" width="3" height="2" fill="#ef5350"/>
<rect x="645" y="318" width="1" height="14" fill="#ef5350"/>
<rect x="644" y="318" width="3" height="8" fill="#ef5350"/>
<rect x="651" y="300" width="1" height="24" fill="#26a69a"/>
<rect x="650" y="300" width="3" height="23" fill="#26a69a"/>
<rect x="657" y="290" width="1" height="21" fill="#26a69a"/>
<rect x="656" y="290" width="3" height="12" fill="#26a69a"/>
<rect x="663" y="283" width="1" height="11" fill="#26a69a"/>
<rect x="662" y="288" width="3" height="1" fill="#26a69a"/>
<rect x="669" y="287" width="1" height="13" fill="#26a69a"/>
<rect x="668" y="289" width="3" height="11" fill="#26a69a"/>
<rect x="675" y="287" width="1" height="24" fill="#ef5350"/>
<rect x="674" y="290" width="3" height="14" fill="#ef5350"/>
<rect x="681" y="294" width="1" height="29" fill="#ef5350"/>
<rect x="680" y="300" width="3" height="15" fill="#ef5350"/>
<rect x="686" y="292" width="1" height="18" fill="#26a69a"/>
<rect x="685" y="292" width="3" height="16" fill="#26a69a"/>
<rect x="692" y="285" width="1" height="12" fill="#26a69a"/>
<rect x="691" y="285" width="3" height="9" fill="#26a69a"/>
<rect x="698" y="282" width="1" height="14" fill="#26a69a"/>
<rect x="697" y="283" width="3" height="2" fill="#26a69a"/>
<rect x="704" y="282" width="1" height="10" fill="#ef5350"/>
<rect x="703" y="283" width="3" height="6" fill="#ef5350"/>
<rect x="710" y="285" width="1" height="20" fill="#ef5350"/>
<rect x="709" y="287" width="3" height="18" fill="#ef5350"/>
<rect x="716" y="295" width="1" height="13" fill="#26a69a"/>
<rect x="715" y="303" width="3" height="2" fill="#26a69a"/>
<rect x="722" y="288" width="1" height="16" fill="#26a69a"/>
<rect x="721" y="288" width="3" height="13" fill="#26a69a"/>
<rect x="728" y="266" width="1" height="34" fill="#26a69a"/>
<rect x="727" y="266" width="3" height="27" fill="#26a69a"/>
<rect x="734" y="237" width="1" height="27" fill="#26a69a"/>
<rect x="733" y="241" width="3" height="23" fill="#26a69a"/>
<rect x="740" y="223" width="1" height="19" fill="#26a69a"/>
<rect x="739" y="226" width="3" height="8" fill="#26a69a"/>
<rect x="746" y="222" width="1" height="20" fill="#ef5350"/>
<rect x="745" y="224" width="3" height="18" fill="#ef5350"/>
<rect x="752" y="238" width="1" height="15" fill="#ef5350"/>
<rect x="751" y="240" width="3" height="3" fill="#ef5350"/>
<rect x="758" y="225" width="1" height="11" fill="#26a69a"/>
<rect x="757" y="228" width="3" height="7" fill="#26a69a"/>
<rect x="764" y="197" width="1" height="29" fill="#26a69a"/>
<rect x="763" y="198" width="3" height="28" fill="#26a69a"/>
<rect x="770" y="194" width="1" height="13" fill="#26a69a"/>
<rect x="769" y="198" width="3" height="3" fill="#26a69a"/>
<rect x="776" y="173" width="1" height="26" fill="#26a69a"/>
<rect x="775" y="176" width="3" height="22" fill="#26a69a"/>
<rect x="782" y="180" width="1" height="16" fill="#ef5350"/>
<rect x="781" y="183" width="3" height="5" fill="#ef5350"/>
<rect x="788" y="178" width="1" height="15" fill="#26a69a"/>
<rect x="787" y="181" width="3" height="1" fill="#26a69a"/>
<rect x="794" y="183" width="1" height="11" fill="#ef5350"/>
<rect x="793" y="186" width="3" height="2" fill="#ef5350"/>
<rect x="800" y="170" width="1" height="16" fill="#26a69a"/>
<rect x="799" y="178" width="3" height="8" fill="#26a69a"/>
<rect x="806" y="174" width="1" height="25" fill="#ef5350"/>
<rect x="805" y="178" width="3" height="21" fill="#ef5350"/>
<rect x="812" y="190" width="1" height="10" fill="#26a69a"/>
<rect x="811" y="193" width="3" height="2" fill="#26a69a"/>
<rect x="818" y="179" width="1" height="20" fill="#26a69a"/>
<rect x="817" y="180" width="3" height="12" fill="#26a69a"/>
<rect x="824" y="179" width="1" height="49" fill="#ef5350"/>
<rect x="823" y="179" width="3" height="48" fill="#ef5350"/>
<rect x="830" y="211" width="1" height="39" fill="#ef5350"/>
<rect x="829" y="220" width="3" height="8" fill="#ef5350"/>
<rect x="836" y="231" width="1" height="27" fill="#ef5350"/>
<rect x="835" y="232" width="3" height="17" fill="#ef5350"/>
<rect x="842" y="236" width="1" height="31" fill="#26a69a"/>
<rect x="841" y="243" width="3" height="8" fill="#26a69a"/>
<rect x="848" y="168" width="1" height="37" fill="#26a69a"/>
<rect x="847" y="184" width="3" height="21" fill="#26a69a"/>
<rect x="854" y="159" width="1" height="36" fill="#26a69a"/>
<rect x="853" y="173" width="3" height="19" fill="#26a69a"/>
<rect x="860" y="164" width="1" height="23" fill="#26a69a"/>
<rect x="859" y="164" width="3" height="13" fill="#26a69a"/>
<rect x="866" y="157" width="1" height="26" fill="#ef5350"/>
<rect x="865" y="157" width="3" height="14" fill="#ef5350"/>
<rect x="872" y="188" width="1" height="31" fill="#ef5350"/>
<rect x="871" y="188" width="3" height="27" fill="#ef5350"/>
<rect x="878" y="191" width="1" height="29" fill="#ef5350"/>
<rect x="877" y="211" width="3" height="5" fill="#ef5350"/>
<rect x="884" y="205" width="1" height="40" fill="#26a69a"/>
<rect x="883" y="205" width="3" height="21" fill="#26a69a"/>
<rect x="890" y="208" width="1" height="24" fill="#ef5350"/>
<rect x="889" y="212" width="3" height="18" fill="#ef5350"/>
<rect x="896" y="216" width="1" height="26" fill="#26a69a"/>
<rect x="895" y="222" width="3" height="14" fill="#26a69a"/>
<rect x="902" y="220" width="1" height="25" fill="#ef5350"/>
<rect x="901" y="222" width="3" height="23" fill="#ef5350"/>
<rect x="908" y="228" width="1" height="32" fill="#26a69a"/>
<rect x="907" y="238" width="3" height="10" fill="#26a69a"/>
<rect x="914" y="220" width="1" height="12" fill="#26a69a"/>
<rect x="913" y="225" width="3" height="7" fill="#26a69a"/>
<rect x="920" y="221" width="1" height="18" fill="#ef5350"/>
<rect x="919" y="228" width="3" height="10" fill="#ef5350"/>
<rect x="926" y="222" width="1" height="23" fill="#ef5350"/>
<rect x="925" y="230" width="3" height="15" fill="#ef5350"/>
<rect x="931" y="224" width="1" height="45" fill="#26a69a"/>
<rect x="930" y="234" width="3" height="22" fill="#26a69a"/>
<rect x="937" y="231" width="1" height="26" fill="#ef5350"/>
<rect x="936" y="241" width="3" height="12" fill="#ef5350"/>
<rect x="943" y="212" width="1" height="32" fill="#26a69a"/>
<rect x="942" y="221" width="3" height="23" fill="#26a69a"/>
<rect x="949" y="205" width="1" height="44" fill="#ef5350"/>
<rect x="948" y="213" width="3" height="29" fill="#ef5350"/>
</g>
<line x1="15" x2="1162" y1="241.5" y2="241.5" stroke="#ef5350" stroke-width="1" stroke-dasharray="1 2" shape-rendering="crispEdges"/>
</svg>
<div class="sepv"></div><div class="seph"></div>
<div class="bl"></div><div class="bt"></div><div class="br"></div><div class="bb"></div>
<div id="ils"></div>
<span class="t" dir="rtl" style="left:11.48px;top:14px;transform:scaleX(1.0154);">תא פיננסים · 1יום</span>
<span class="t" style="left:142.40px;top:14px;transform:scaleX(1.4000);">·</span>
<span class="t" style="left:156.10px;top:14px;transform:scaleX(0.8667);">TASE</span>
<span class="t" style="left:204.90px;top:14px;transform:scaleX(1.0119);color:#ef5350;">−220.210 (−2.09%)</span>
<span class="t" dir="rtl" style="left:12.00px;top:40px;transform:scaleX(1.0325);">מחזור</span>
<span class="t" style="left:10.96px;top:66px;transform:scaleX(1.0437);">MA Ribbon</span>
<span class="t" style="left:1268.23px;top:15px;transform:scaleX(0.8708);">ILS</span>
<span class="t" style="left:1261.92px;top:77px;transform:scaleX(1.0765);">11,500.000</span>
<span class="t" style="left:1261.92px;top:124px;transform:scaleX(1.0765);">11,000.000</span>
<span class="t" style="left:1261.95px;top:171px;transform:scaleX(1.0506);">10,500.000</span>
<span class="t" style="left:1261.95px;top:217px;transform:scaleX(1.0506);">10,000.000</span>
<span class="t" style="left:1263.00px;top:264px;transform:scaleX(1.0541);">9,500.000</span>
<span class="t" style="left:1263.00px;top:311px;transform:scaleX(1.0541);">9,000.000</span>
<span class="t" style="left:1263.00px;top:357px;transform:scaleX(1.0541);">8,500.000</span>
<span class="t" style="left:1263.00px;top:404px;transform:scaleX(1.0541);">8,000.000</span>
<span class="t" style="left:1263.00px;top:451px;transform:scaleX(1.0541);">7,500.000</span>
<span class="t" style="left:1263.00px;top:498px;transform:scaleX(1.0541);">7,000.000</span>
<span class="t" style="left:1261.93px;top:544px;transform:scaleX(1.0685);">6,500.000</span>
<span class="t" style="left:1261.93px;top:591px;transform:scaleX(1.0685);">6,000.000</span>
<span class="t" style="left:1261.93px;top:638px;transform:scaleX(1.0685);">5,500.000</span>
<span class="t" style="left:1261.93px;top:684px;transform:scaleX(1.0685);">5,000.000</span>
<span class="t" style="left:99.10px;top:726px;transform:scaleX(0.9485);">ספט'</span>
<span class="t" style="left:215.58px;top:726px;transform:scaleX(1.0192);">אוק'</span>
<span class="t" style="left:313.40px;top:726px;transform:scaleX(0.9667);">נוב'</span>
<span class="t" style="left:435.50px;top:726px;transform:scaleX(0.9333);">דצמ'</span>
<span class="t" style="left:567.80px;top:726px;transform:scaleX(1.1054);font-weight:bold;">2026</span>
<span class="t" style="left:697.90px;top:726px;transform:scaleX(0.9750);">פבר'</span>
<span class="t" style="left:819.40px;top:726px;transform:scaleX(0.9607);">מרץ</span>
<span class="t" style="left:942.60px;top:726px;transform:scaleX(0.9875);">אפר'</span>
<span class="t" style="left:1041.68px;top:726px;transform:scaleX(0.9200);">מאי</span>
<span class="t" style="left:1158.80px;top:726px;transform:scaleX(0.9778);">יונ'</span>
<div id="tag"></div><div id="tagsep"></div>
<span class="t" style="left:1155.70px;top:191px;transform:scaleX(0.9032);color:#fff;-webkit-text-stroke-width:0.55px;">TAFINANCE</span>
<span class="t" style="left:1262.65px;top:191px;transform:scaleX(1.0482);color:#fff;-webkit-text-stroke-width:0.7px;">10,299.210</span>
</div>
<span class="t" style="left:-0.51px;top:-28px;transform:scaleX(1.0140);color:#dcdcdc;-webkit-text-stroke-width:0.4px;font-size:17.4px;">FibonacciPsychologist</span>
<span class="t" dir="rtl" style="left:180.24px;top:-28px;transform:scaleX(0.9582);color:#dcdcdc;-webkit-text-stroke-width:0.4px;font-size:17.4px;">נוצר עם</span>
<span class="t" style="left:240.50px;top:-28px;transform:scaleX(1.0257);color:#dcdcdc;-webkit-text-stroke-width:0.4px;font-size:17.4px;">TradingView.com,</span>
<span class="t" style="left:387.80px;top:-28px;transform:scaleX(0.9814);color:#dcdcdc;-webkit-text-stroke-width:0.4px;font-size:17.4px;">21:37</span>
<span class="t" style="left:439.00px;top:-28px;transform:scaleX(0.9079);color:#dcdcdc;-webkit-text-stroke-width:0.4px;font-size:17.4px;">2026</span>
<span class="t" dir="rtl" style="left:481.75px;top:-28px;transform:scaleX(0.9478);color:#dcdcdc;-webkit-text-stroke-width:0.4px;font-size:17.4px;">26,</span>
<span class="t" dir="rtl" style="left:511.00px;top:-28px;transform:scaleX(0.9448);color:#dcdcdc;-webkit-text-stroke-width:0.4px;font-size:17.4px;">מרץ</span>
<span class="t" style="left:544.36px;top:-28px;transform:scaleX(0.9352);color:#dcdcdc;-webkit-text-stroke-width:0.4px;font-size:17.4px;">UTC+2</span>
</div>
<svg id="logo" width="1395" height="90" viewBox="0 797 1395 90">
<g fill="#dcdcdc">
<path d="M17.9 830H36.1V852.7H27V838.9H17.9Z"/>
<circle cx="43.5" cy="834.5" r="4.65"/>
<path d="M52.7 830H63L54 852.7H43.7Z"/>
<text x="72.6" y="852.7" font-family="Liberation Sans, DejaVu Sans, sans-serif" font-size="30.7" font-weight="bold" textLength="182" lengthAdjust="spacingAndGlyphs">TradingView</text>
</g>
</svg>
</body>
</html>
